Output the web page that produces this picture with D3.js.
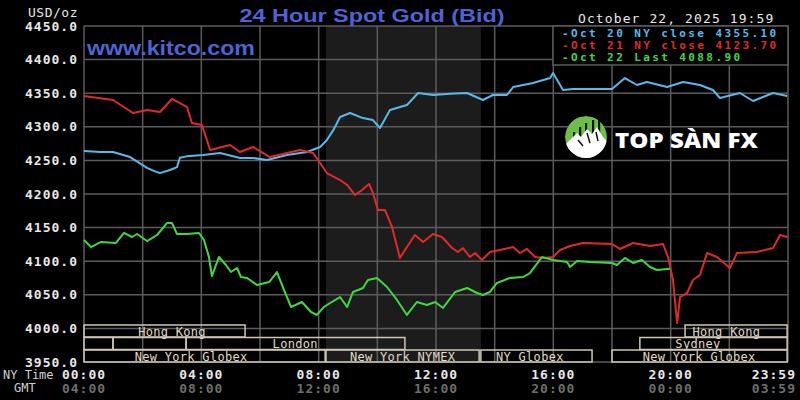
<!DOCTYPE html>
<html><head><meta charset="utf-8">
<script src="https://cdn.jsdelivr.net/npm/d3@7"></script>
<style>html,body{margin:0;padding:0;background:#000;}svg{display:block;}</style>
</head><body>
<svg id="chart" width="800" height="400"></svg>
<script>
// ---------- data (hours NY time, price USD/oz) ----------
const oct20Hours = [0,0.55,0.99,1.57,2.15,2.4,2.59,2.93,3.17,3.27,3.5,4.06,4.64,5.32,5.76,6.24,6.92,7.6,8.05,8.28,8.5,8.73,9.07,9.51,9.85,10.09,10.43,11.01,11.39,11.9,12.5,13.06,13.6,13.94,14.42,14.63,15.31,15.89,15.99,16.33,16.67,18.0,18.44,18.85,19.19,19.88,20.42,21.0,21.44,21.68,22.36,22.81,23.49,23.97];
const oct20Prices = [4264,4262.5,4262.5,4255,4239,4234,4231,4235.7,4240,4254,4256,4258,4261,4253.6,4253.6,4250.6,4258,4262.5,4270,4280.4,4295,4314.6,4320.5,4313,4310,4298.2,4325,4332.4,4350.3,4347.3,4349,4350.3,4339.9,4347.3,4347.3,4359.2,4365.2,4372.6,4380.1,4354.8,4356.2,4356.2,4372.6,4362.2,4366.7,4359.2,4366.7,4362.2,4354.8,4342.9,4350.3,4338.4,4350.3,4345.8];

const oct21Hours = [0,0.99,1.67,2.15,2.59,3.0,3.51,3.68,4.02,4.30,4.98,5.32,5.76,6.34,6.92,7.36,7.81,8.05,8.28,8.73,8.97,9.24,9.48,9.72,9.85,10.02,10.26,10.50,10.77,11.01,11.28,11.56,11.90,12.20,12.55,12.75,12.92,13.16,13.33,13.57,13.84,14.18,14.63,14.86,15.10,15.38,15.65,15.99,16.23,16.57,17.0,18.0,18.27,18.72,19.30,19.74,19.91,20.08,20.22,20.32,20.56,20.76,21.0,21.24,21.58,22.02,22.26,22.94,23.49,23.73,23.97];
const oct21Prices = [4345.8,4339.9,4320.5,4325,4322,4341.4,4329.5,4305.7,4302.7,4265.5,4273,4262.5,4270,4255,4261,4265.5,4261,4246.1,4231.2,4220.8,4213.4,4198.5,4206,4215,4201.5,4176.2,4176.2,4150.9,4104.8,4121.1,4139,4128.6,4140.5,4136,4119.6,4113.7,4119.6,4106.2,4112.2,4101.8,4113.7,4116.7,4121.1,4112.2,4118.2,4106.2,4104.8,4106.2,4116.7,4122.6,4127,4125.6,4118.2,4127.1,4122.6,4125.6,4106.2,4072,4008,4046.7,4052.7,4072,4079.5,4112.2,4106.2,4089.9,4112.2,4113.7,4119.6,4139,4136];

const oct22Hours = [0,0.24,0.58,1.09,1.36,1.64,1.81,2.15,2.49,2.83,3.0,3.17,3.51,3.92,4.09,4.26,4.36,4.60,4.84,5.01,5.22,5.35,5.56,5.90,6.31,6.58,6.82,7.06,7.43,7.74,7.94,8.18,8.39,8.73,8.97,9.17,9.51,9.68,9.99,10.33,10.67,11.01,11.35,11.69,11.97,12.24,12.65,13.06,13.40,13.60,13.84,14.08,14.52,14.97,15.20,15.61,15.99,16.47,16.57,16.81,17.25,18.0,18.17,18.44,18.72,19.02,19.30,19.53,19.98];
const oct22Prices = [4131.5,4121.1,4128.6,4127.1,4142,4136,4140.5,4130,4139,4156.8,4156.8,4140.5,4140.5,4142,4131.5,4106.2,4078,4106.2,4094.3,4083.9,4089.9,4076.5,4075,4064.6,4069,4083.9,4057.1,4031.8,4039.3,4024.4,4020,4031.8,4037.8,4046.7,4031.8,4054.2,4060.1,4072,4075,4061.6,4042.3,4020,4039.3,4034.8,4039.3,4030.4,4054.2,4060.1,4052.7,4049.7,4054.2,4067.6,4075,4076.5,4082.4,4106.2,4101.8,4098.8,4091.4,4100.3,4098.8,4097.3,4094.3,4104.8,4097.3,4101.8,4091.4,4086.9,4088.9];

const seriesNames  = ["Oct 20 NY close 4355.10","Oct 21 NY close 4123.70","Oct 22 Last 4088.90"];
const seriesColors = ["#5ab8ea","#e02a2a","#40d840"];

const yTicks = [3950,4000,4050,4100,4150,4200,4250,4300,4350,4400,4450];
const xTickHours = [0,4,8,12,16,20,24];
const nyLabels  = ["00:00","04:00","08:00","12:00","16:00","20:00","23:59"];
const gmtLabels = ["04:00","08:00","12:00","16:00","20:00","00:00","03:59"];

// trading sessions: row, start hour, end hour, label, label hour
const sessionRows   = [0,0,1,1,1,1,2,2,2,2];
const sessionStart  = [0,20.49,0,0.99,3.48,18.95,0,8.25,13.53,18.0];
const sessionEnd    = [5.49,23.97,0.99,3.48,10.94,23.97,8.22,13.47,17.32,23.97];
const sessionLabels = ["Hong Kong","Hong Kong","","","London","Sydney","New York Globex","New York NYMEX","NY Globex","New York Globex"];
const sessionLabelAt= [3.0,21.9,0,0,7.2,20.93,3.65,10.86,15.2,20.97];
const nymexShade = [8.25,13.53];

const titleText = "24 Hour Spot Gold (Bid)";
const dateText = "October 22, 2025 19:59";

// ---------- drawing ----------
const svg = d3.select("#chart");
const x = d3.scaleLinear().domain([0,24]).range([84,788]);
const y = d3.scaleLinear().domain([3950,4450]).range([362,26]);
const mono = "'DejaVu Sans Mono', 'Liberation Mono', monospace";

svg.append("rect").attr("width",800).attr("height",400).attr("fill","#000");

// NYMEX shading
svg.append("rect").attr("x",x(nymexShade[0])).attr("y",y(4450))
  .attr("width",x(nymexShade[1])-x(nymexShade[0])).attr("height",y(3950)-y(4450))
  .attr("fill","#1c1c1c");

// grid
const grid = svg.append("g").attr("stroke","#5c5c5c").attr("stroke-width",1.5);
grid.selectAll("line.h").data(yTicks).join("line")
  .attr("x1",x(0)).attr("x2",x(24)).attr("y1",d=>y(d)).attr("y2",d=>y(d));
grid.selectAll("line.v").data(d3.range(0,25,2)).join("line")
  .attr("x1",d=>x(d)).attr("x2",d=>x(d)).attr("y1",y(4450)).attr("y2",y(3950));

// y labels
svg.append("g").selectAll("text").data(yTicks).join("text")
  .attr("x",78).attr("y",d=>y(d)).attr("dy","0.36em").attr("text-anchor","end")
  .attr("font-family",mono).attr("font-weight","bold").attr("font-size",13)
  .attr("letter-spacing",1).attr("fill","#e8e8e8").text(d=>d3.format(".1f")(d));
svg.append("text").attr("x",78).attr("y",12).attr("dy","0.36em").attr("text-anchor","end")
  .attr("font-family",mono).attr("font-size",13).attr("letter-spacing",0.5)
  .attr("fill","#e8e8e8").text("USD/oz");

// x labels
const xl = svg.append("g").attr("font-family",mono).attr("font-weight","bold").attr("font-size",13).attr("letter-spacing",1);
xl.selectAll("text.ny").data(xTickHours).join("text")
  .attr("x",(d,i)=> i===xTickHours.length-1 ? x(d)+8 : x(d))
  .attr("text-anchor",(d,i)=> i===xTickHours.length-1 ? "end":"middle")
  .attr("y",374).attr("dy","0.36em").attr("fill","#e8e8e8").text((d,i)=>nyLabels[i]);
xl.selectAll("text.gmt").data(xTickHours).join("text")
  .attr("x",(d,i)=> i===xTickHours.length-1 ? x(d)+8 : x(d))
  .attr("text-anchor",(d,i)=> i===xTickHours.length-1 ? "end":"middle")
  .attr("y",388).attr("dy","0.36em").attr("fill","#6e6e6e").text((d,i)=>gmtLabels[i]);
svg.append("text").attr("x",3).attr("y",375).attr("dy","0.36em").attr("font-family",mono)
  .attr("font-size",12).attr("fill","#d0d0d0").text("NY Time");
svg.append("text").attr("x",14).attr("y",388).attr("dy","0.36em").attr("font-family",mono)
  .attr("font-size",12).attr("fill","#d0d0d0").text("GMT");

// series lines
const series = [[oct20Hours,oct20Prices],[oct21Hours,oct21Prices],[oct22Hours,oct22Prices]];
const line = d3.line().x(d=>x(d[0])).y(d=>y(d[1]));
series.forEach((s,i)=>{
  const pts = s[0].map((h,j)=>[h,s[1][j]]);
  svg.append("path").datum(pts).attr("d",line).attr("fill","none")
    .attr("stroke",seriesColors[i]).attr("stroke-width",2).attr("stroke-linejoin","round");
});

// sessions
const rowTop = [325,337.5,350];
const rowH = 12;
const sg = svg.append("g");
sessionRows.forEach((r,i)=>{
  sg.append("rect").attr("x",x(sessionStart[i])).attr("y",rowTop[r])
    .attr("width",x(sessionEnd[i])-x(sessionStart[i])).attr("height",rowH)
    .attr("fill","none").attr("stroke","#cfc7b2").attr("stroke-width",1.5);
  if(sessionLabels[i]) sg.append("text").attr("x",x(sessionLabelAt[i])).attr("y",rowTop[r]+rowH/2+0.5)
    .attr("dy","0.36em").attr("text-anchor","middle").attr("font-family",mono).attr("font-size",12)
    .attr("letter-spacing",0.3).attr("fill","#e0d9c8").text(sessionLabels[i]);
});

// title, site, date
svg.append("text").attr("x",372).attr("y",15).attr("dy","0.36em").attr("text-anchor","middle")
  .attr("font-family","'Liberation Sans', Arial, sans-serif").attr("font-weight","bold").attr("font-size",19)
  .attr("textLength",265).attr("lengthAdjust","spacingAndGlyphs").attr("fill","#4d64d4").text(titleText);
svg.append("text").attr("x",87).attr("y",47).attr("dy","0.36em")
  .attr("font-family","'Liberation Sans', Arial, sans-serif").attr("font-weight","bold").attr("font-size",21)
  .attr("textLength",168).attr("lengthAdjust","spacingAndGlyphs").attr("fill","#4d64d4").text("www.kitco.com");
svg.append("text").attr("x",578).attr("y",18).attr("dy","0.36em").attr("font-family",mono)
  .attr("font-size",13).attr("letter-spacing",1.1).attr("fill","#e8e8e8").text(dateText);

// legend
svg.append("rect").attr("x",553).attr("y",26).attr("width",235).attr("height",39)
  .attr("fill","#000").attr("stroke","#5c5c5c").attr("stroke-width",1.5);
seriesNames.forEach((n,i)=>{
  svg.append("text").attr("x",562).attr("y",33+i*12.2).attr("dy","0.36em").attr("font-family",mono)
    .attr("font-size",11).attr("font-weight","bold").attr("letter-spacing",2.4)
    .attr("fill",seriesColors[i]).text("-"+n);
});

// logo
const logo = svg.append("g");
const cx = 586, cy = 137, r = 21;
logo.append("clipPath").attr("id","lc").append("circle").attr("cx",cx).attr("cy",cy).attr("r",r);
const lg = logo.append("g").attr("clip-path","url(#lc)");
lg.append("circle").attr("cx",cx).attr("cy",cy).attr("r",r).attr("fill","#6cc04a");
[[-12,132],[-6,127],[0,123],[7,120],[13,119]].forEach(b=>{
  lg.append("rect").attr("x",cx+b[0]-1).attr("y",b[1]).attr("width",2.2).attr("height",30).attr("fill","#111");
});
lg.append("path").attr("fill","#fff")
  .attr("d",`M${cx-22},${cy+9} L${cx-14},${cy+1} L${cx-9},${cy-4} L${cx-5},${cy} L${cx+1},${cy-8} L${cx+6},${cy-3} L${cx+11},${cy-10} L${cx+17},${cy} L${cx+22},${cy+5} L${cx+22},${cy+25} L${cx-22},${cy+25} Z`);
lg.append("path").attr("fill","none").attr("stroke","#111").attr("stroke-width",1.5)
  .attr("d",`M${cx-8},${cy+3} L${cx-3},${cy+9} M${cx+1},${cy-4} L${cx+4},${cy+6} M${cx+10},${cy-5} L${cx+12},${cy+4}`);
svg.append("text").attr("x",615).attr("y",140).attr("dy","0.36em")
  .attr("font-family","'Open Sans', 'Liberation Sans', sans-serif").attr("font-weight","800").attr("font-size",21)
  .attr("textLength",143).attr("lengthAdjust","spacingAndGlyphs").attr("fill","#fff").text("TOP SÀN FX");
</script>
</body></html>
